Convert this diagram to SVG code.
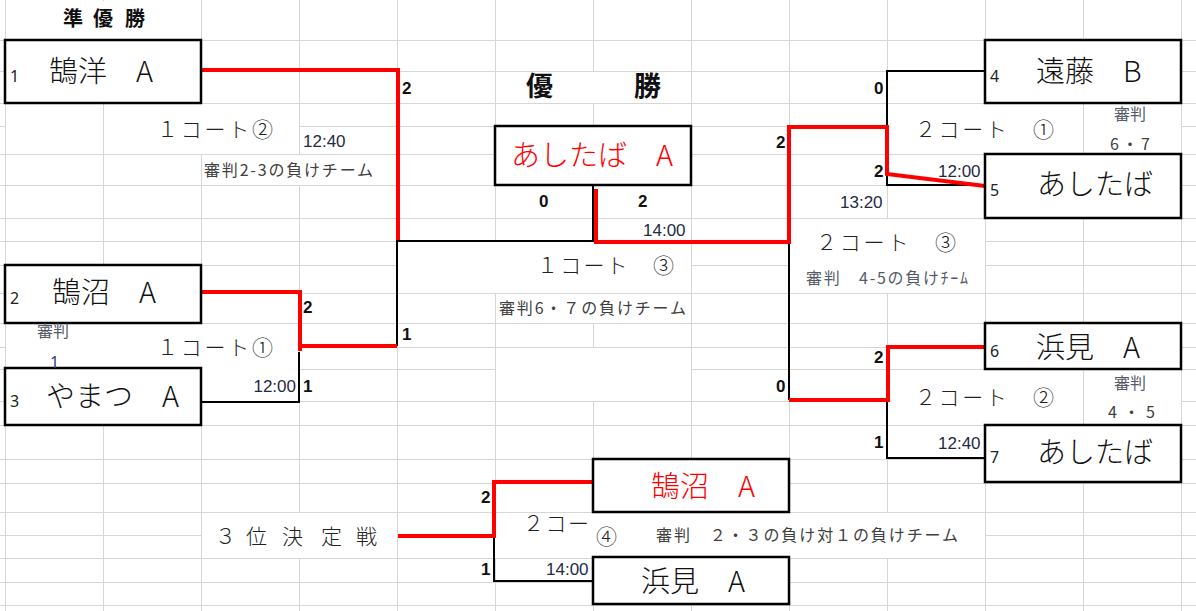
<svg xmlns="http://www.w3.org/2000/svg" width="1196" height="611" viewBox="0 0 1196 611">
<style>
.grid{stroke:#d6d6d6;stroke-width:1;fill:none}
.wo{fill:#fff}
.box{fill:#fff;stroke:#000;stroke-width:2.5}
.blk{fill:none;stroke:#000;stroke-width:2}
.red{fill:none;stroke:#ff0000;stroke-width:4}
.team{font-family:"Noto Sans CJK JP","Noto Sans",sans-serif;font-size:29px;font-weight:300;fill:#111}
.seed{font-family:"Noto Sans","Noto Sans CJK JP",sans-serif;font-size:16px;fill:#222}
.score{font-family:"Liberation Sans",Arial,sans-serif;font-size:17px;font-weight:bold;fill:#111}
.time{font-family:"Liberation Sans",Arial,sans-serif;font-size:17px;fill:#1f2a44}
.court{font-family:"Noto Sans CJK JP","Noto Sans",sans-serif;font-size:21px;font-weight:300;fill:#222}
.judge{font-family:"Noto Sans CJK JP","Noto Sans",sans-serif;font-size:16px;fill:#404040}
.judge2{font-family:"Noto Sans CJK JP","Noto Sans",sans-serif;font-size:16px;fill:#555b66}
.title{font-family:"Noto Sans CJK JP","Noto Sans",sans-serif;font-weight:bold;fill:#111}
</style>
<rect width="1196" height="611" fill="#fff"/>
<g id="grid">
<path class="grid" d="M5.5,0V611M103.5,0V611M201.5,0V611M299.5,0V611M397.5,0V611M495.5,0V611M593.5,0V611M691.5,0V611M789.5,0V611M887.5,0V611M985.5,0V611M1083.5,0V611M1181.5,0V611"/>
<path class="grid" d="M0,40.5H1196M0,71.5H1196M0,103.5H1196M0,126.5H1196M0,154.5H1196M0,185.5H1196M0,218.5H1196M0,241.5H1196M0,265.5H1196M0,293.5H1196M0,323.5H1196M0,347.5H1196M0,369.5H1196M0,401.5H1196M0,425.5H1196M0,459.5H1196M0,483.5H1196M0,512.5H1196M0,535.5H1196M0,558.5H1196M0,582.5H1196M0,605.5H1196"/>
<rect class="wo" x="60" y="1" width="92" height="38"/>
<rect class="wo" x="6" y="104" width="97" height="50"/>
<rect class="wo" x="104" y="104" width="195" height="50"/>
<rect class="wo" x="202" y="155" width="195" height="30"/>
<rect class="wo" x="6" y="324" width="293" height="44"/>
<rect class="wo" x="202" y="368" width="97" height="33"/>
<rect class="wo" x="496" y="72" width="195" height="31"/>
<rect class="wo" x="398" y="242" width="293" height="51"/>
<rect class="wo" x="496" y="294" width="195" height="29"/>
<rect class="wo" x="496" y="348" width="195" height="53"/>
<rect class="wo" x="888" y="104" width="195" height="50"/>
<rect class="wo" x="1084" y="104" width="97" height="50"/>
<rect class="wo" x="790" y="219" width="195" height="74"/>
<rect class="wo" x="888" y="370" width="195" height="55"/>
<rect class="wo" x="1084" y="370" width="97" height="55"/>
<rect class="wo" x="202" y="513" width="195" height="45"/>
<rect class="wo" x="495" y="513" width="490" height="45"/>
</g>
<g id="connectors">
<path class="blk" d="M201,402H299V352"/>
<path class="blk" d="M397,240V346"/>
<path class="blk" d="M397,241H593V185"/>
<path class="blk" d="M985,71H887V127"/>
<path class="blk" d="M887,174V185H985"/>
<path class="blk" d="M789,242V400"/>
<path class="blk" d="M887,400V458H985"/>
<path class="blk" d="M494,536V581H593"/>
<path class="red" d="M201,70H398V240"/>
<path class="red" d="M201,292H300V351"/>
<path class="red" d="M302,346H397"/>
<path class="red" d="M596,189V242H789V127H887V174L985,186"/>
<path class="red" d="M789,400H888V347H985"/>
<path class="red" d="M398,536H494V482H593"/>
</g>
<g id="title-runnerup"><text class="title" font-size="20" x="63 93 125" y="25.5">準優勝</text></g>
<g id="title-winner"><text class="title" font-size="27" x="526" y="96">優</text><text class="title" font-size="27" x="634" y="96">勝</text></g>
<g id="team1"><rect class="box" x="5" y="40" width="196" height="63"/><text class="seed" x="10" y="82">1</text><text class="team" x="49" y="82">鵠洋　A</text></g>
<g id="team2"><rect class="box" x="5" y="265" width="196" height="58"/><text class="seed" x="10" y="304">2</text><text class="team" x="52" y="303">鵠沼　A</text></g>
<g id="team3"><rect class="box" x="5" y="368" width="196" height="57"/><text class="seed" x="10" y="407">3</text><text class="team" x="46" y="407">やまつ　A</text></g>
<g id="champion"><rect class="box" x="495" y="126" width="196" height="59"/><text class="team" x="511" y="166" style="fill:#ff0000">あしたば　A</text></g>
<g id="team4"><rect class="box" x="985" y="40" width="196" height="63"/><text class="seed" x="990" y="82">4</text><text class="team" x="1036" y="82">遠藤　B</text></g>
<g id="team5"><rect class="box" x="985" y="154" width="196" height="64"/><text class="seed" x="990" y="196">5</text><text class="team" x="1037" y="195">あしたば</text></g>
<g id="team6"><rect class="box" x="985" y="323" width="196" height="46"/><text class="seed" x="990" y="357">6</text><text class="team" x="1036" y="358">浜見　A</text></g>
<g id="team7"><rect class="box" x="985" y="425" width="196" height="57"/><text class="seed" x="990" y="463">7</text><text class="team" x="1037" y="463">あしたば</text></g>
<g id="third1"><rect class="box" x="593" y="459" width="196" height="53"/><text class="team" x="651" y="497" style="fill:#ff0000">鵠沼　A</text></g>
<g id="third2"><rect class="box" x="593" y="557" width="196" height="47"/><text class="team" x="641" y="592">浜見　A</text></g>
<g id="scores">
<text class="score" x="402" y="94">2</text>
<text class="score" x="303" y="313">2</text>
<text class="score" x="303" y="392">1</text>
<text class="score" x="402" y="340">1</text>
<text class="score" x="539" y="207">0</text>
<text class="score" x="638" y="207">2</text>
<text class="score" x="776" y="148">2</text>
<text class="score" x="874" y="94">0</text>
<text class="score" x="874" y="177">2</text>
<text class="score" x="874" y="363">2</text>
<text class="score" x="776" y="392">0</text>
<text class="score" x="874" y="448">1</text>
<text class="score" x="481" y="503">2</text>
<text class="score" x="481" y="575">1</text>
</g>
<g id="times">
<text class="time" x="303" y="147">12:40</text>
<text class="time" x="296" y="392" text-anchor="end">12:00</text>
<text class="time" x="643" y="236">14:00</text>
<text class="time" x="938" y="177">12:00</text>
<text class="time" x="840" y="208">13:20</text>
<text class="time" x="938" y="449">12:40</text>
<text class="time" x="546" y="575">14:00</text>
</g>
<g id="courts">
<text class="court" x="157" y="137" textLength="116">１コート②</text>
<text class="court" x="157" y="355" textLength="116">１コート①</text>
<text class="court" x="537" y="273" textLength="137">１コート　③</text>
<text class="court" x="915" y="137" textLength="139">２コート　①</text>
<text class="court" x="816" y="250" textLength="140">２コート　③</text>
<text class="court" x="915" y="405" textLength="139">２コート　②</text>
<text class="court" x="523" y="531" textLength="66">２コー</text>
<text class="court" x="596" y="544" font-size="23">④</text>
<text class="court" x="215 246 282 321 356" y="544" font-size="21">３位決定戦</text>
</g>
<g id="judges">
<text class="judge" x="204" y="176" textLength="169">審判2-3の負けチーム</text>
<text class="judge" x="499" y="314" textLength="187">審判6・７の負けチーム</text>
<text class="judge2" x="806" y="284" textLength="162">審判　4-5の負けﾁｰﾑ</text>
<text class="judge2" x="37" y="337">審判</text>
<text class="seed" x="50" y="368" style="fill:#3a3a7a">1</text>
<text class="judge2" x="1114" y="120">審判</text>
<text class="judge" x="1110" y="150" textLength="40">6・7</text>
<text class="judge2" x="1114" y="389">審判</text>
<text class="judge" x="1108" y="418" textLength="47">4 ・ 5</text>
<text class="judge" x="656" y="541" textLength="302">審判　２・３の負け対１の負けチーム</text>
</g>
</svg>
